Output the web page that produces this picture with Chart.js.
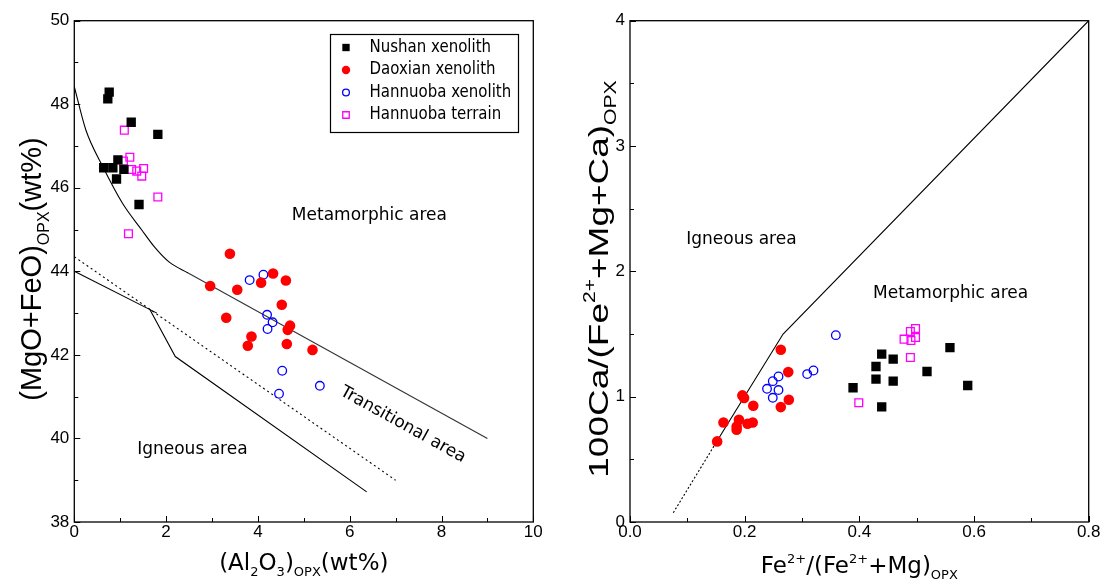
<!DOCTYPE html>
<html><head><meta charset="utf-8">
<script src="https://cdn.jsdelivr.net/npm/chart.js@4.4.1/dist/chart.umd.min.js"></script>
<style>
html,body{margin:0;padding:0;background:#fff;}
body{width:1104px;height:584px;overflow:hidden;position:relative;}
canvas{position:absolute;top:0;}
</style>
</head><body>
<canvas id="c1" width="552" height="584" style="left:0px"></canvas>
<canvas id="c2" width="552" height="584" style="left:552px"></canvas>
<script>
// ---------------- Left diagram: (Al2O3)opx vs (MgO+FeO)opx ----------------
const seriesNames = ['Nushan xenolith','Daoxian xenolith','Hannuoba xenolith','Hannuoba terrain'];

const nushanAl   = [0.76,0.73,1.24,1.82,0.95,0.64,0.84,1.08,0.92,1.41];
const nushanMF   = [48.29,48.13,47.57,47.28,46.67,46.48,46.48,46.44,46.21,45.60];
const daoxianAl  = [3.39,4.33,4.07,4.61,2.96,3.55,4.52,3.31,4.70,4.65,3.86,3.78,4.63,5.19];
const daoxianMF  = [44.42,43.95,43.73,43.78,43.65,43.56,43.20,42.89,42.70,42.60,42.44,42.22,42.26,42.12];
const hanXenAl   = [3.82,4.12,4.20,4.32,4.21,4.53,5.35,4.46];
const hanXenMF   = [43.79,43.92,42.96,42.78,42.62,41.62,41.26,41.07];
const hanTerAl   = [1.09,1.21,1.07,1.25,1.36,1.51,1.47,1.82,1.18];
const hanTerMF   = [47.38,46.73,46.64,46.44,46.40,46.46,46.28,45.78,44.90];

// boundary lines (left)
const curveAl    = [0,0.25,0.62,1.05,1.47,1.75,2.07,2.48];
const curveMF    = [48.42,47.39,46.51,45.63,44.99,44.58,44.22,43.96];
const upperAl    = [2.48,9.0];
const upperMF    = [43.96,40.0];
const dottedAl   = [0,7.0];
const dottedMF   = [44.35,39.0];
const lowerAl    = [0,1.80];
const lowerMF    = [44.0,43.0];
const lower2Al   = [1.64,2.20,6.37];
const lower2MF   = [43.10,41.96,38.72];

const xTicksL = [0,2,4,6,8,10];
const xTickLabelsL = ['0','2','4','6','8','10'];
const yTicksL = [38,40,42,44,46,48,50];
const yTickLabelsL = ['38','40','42','44','46','48','50'];

// ---------------- Right diagram: Fe/(Fe+Mg) vs 100Ca/(Fe+Mg+Ca) ----------------
const nushanFe   = [0.439,0.459,0.429,0.429,0.459,0.389,0.439,0.518,0.558,0.589];
const nushanCa   = [1.340,1.300,1.241,1.140,1.124,1.071,0.919,1.201,1.392,1.089];
const daoxianFe  = [0.152,0.196,0.199,0.215,0.163,0.190,0.186,0.186,0.205,0.214,0.263,0.276,0.277,0.263];
const daoxianCa  = [0.643,1.010,0.989,0.927,0.794,0.816,0.762,0.736,0.784,0.794,1.374,1.196,0.975,0.917];
const hanXenFe   = [0.359,0.259,0.249,0.239,0.259,0.249,0.309,0.320];
const hanXenCa   = [1.491,1.161,1.124,1.063,1.053,0.991,1.180,1.209];
const hanTerFe   = [0.498,0.489,0.498,0.478,0.490,0.489,0.399];
const hanTerCa   = [1.544,1.520,1.472,1.459,1.448,1.313,0.951];

const rSolidFe   = [0.151,0.267,0.8];
const rSolidCa   = [0.64,1.5,4.0];
const rDotFe     = [0.0755,0.151];
const rDotCa     = [0.074,0.64];

const xTicksR = [0,0.2,0.4,0.6,0.8];
const xTickLabelsR = ['0.0','0.2','0.4','0.6','0.8'];
const yTicksR = [0,1,2,3,4];
const yTickLabelsR = ['0','1','2','3','4'];

// ---------------- helpers ----------------
const FA = '"Liberation Sans", Arial, sans-serif';
const FD = '"DejaVu Sans", Verdana, sans-serif';
const zip = (xs, ys) => xs.map((x, i) => ({x, y: ys[i]}));

const styles = [
  {pointStyle:'rect',   radius:6.6, bg:'#000000', bc:'#000000', bw:0,   lr:5.2},
  {pointStyle:'circle', radius:5.3, bg:'#ff0000', bc:'#ff0000', bw:0,   lr:4.2},
  {pointStyle:'circle', radius:4.3, bg:'rgba(0,0,0,0)', bc:'#0000ff', bw:1.3, lr:3.4},
  {pointStyle:'rect',   radius:5.5, bg:'rgba(0,0,0,0)', bc:'#ff00ff', bw:1.3, lr:4.6}
];
function pointDS(i, data) {
  const s = styles[i];
  return {label: seriesNames[i], data, showLine:false, pointStyle:s.pointStyle,
    pointRadius:s.radius, pointBackgroundColor:s.bg, pointBorderColor:s.bc,
    pointBorderWidth:s.bw, order: 1, legendRadius:s.lr, isSeries:true};
}
function lineDS(data, dash, mono, color) {
  return {label:'', data, showLine:true, pointRadius:0, borderColor: color || '#000', borderWidth:1.1,
    borderDash: dash || [], cubicInterpolationMode: mono ? 'monotone' : 'default', order: 5, isSeries:false};
}

function textW(ctx, parts, base, small, fam) {
  let w = 0;
  for (const p of parts) { ctx.font = (p.s ? small : base) + 'px ' + fam; w += ctx.measureText(p.t).width; }
  return w;
}
function drawRich(ctx, parts, cx, cy, base, small, fam, rot, sub, sup, stretch) {
  ctx.save();
  ctx.translate(cx, cy);
  if (rot) ctx.rotate(rot);
  if (stretch) ctx.scale(stretch, 1);
  ctx.fillStyle = '#000'; ctx.textAlign = 'left'; ctx.textBaseline = 'alphabetic';
  let x = -textW(ctx, parts, base, small, fam) / 2;
  for (const p of parts) {
    ctx.font = (p.s ? small : base) + 'px ' + fam;
    const dy = p.s === 'sub' ? sub : (p.s === 'sup' ? -sup : 0);
    ctx.fillText(p.t, x, dy);
    x += ctx.measureText(p.t).width;
  }
  ctx.restore();
}

const decor = {
  id: 'decor',
  afterDraw(chart, args, o) {
    const ctx = chart.ctx, a = chart.chartArea, xs = chart.scales.x, ys = chart.scales.y;
    ctx.save();
    // frame
    ctx.strokeStyle = '#000'; ctx.lineWidth = 1.3;
    ctx.strokeRect(a.left, a.top, a.right - a.left, a.bottom - a.top);
    // inward ticks (major + minor)
    ctx.lineWidth = 1;
    ctx.beginPath();
    for (let v = xs.min; v <= xs.max + 1e-9; v += o.xStep / 2) {
      const px = Math.round(xs.getPixelForValue(v)) + 0.5;
      const major = Math.abs(Math.round(v / o.xStep) * o.xStep - v) < 1e-9;
      const len = major ? 6 : 4;
      ctx.moveTo(px, a.bottom); ctx.lineTo(px, a.bottom - len);
    }
    for (let v = ys.min; v <= ys.max + 1e-9; v += o.yStep / 2) {
      const py = Math.round(ys.getPixelForValue(v)) + 0.5;
      const major = Math.abs(Math.round(v / o.yStep) * o.yStep - v) < 1e-9;
      const len = major ? 6 : 4;
      ctx.moveTo(a.left, py); ctx.lineTo(a.left + len, py);
    }
    ctx.stroke();
    // axis titles
    drawRich(ctx, o.xTitle.parts, (a.left + a.right) / 2, o.xTitle.y, 23, 13, FD, 0, 6, 10);
    const yt = o.yTitle;
    drawRich(ctx, yt.parts, yt.x, yt.y, yt.size, yt.small, FA, -Math.PI / 2, 8, 13, yt.stretch);
    // annotations (data coordinates)
    ctx.fillStyle = '#000'; ctx.font = '17px ' + FD;
    for (const n of o.notes) {
      const px = xs.getPixelForValue(n.x), py = ys.getPixelForValue(n.y);
      ctx.save(); ctx.translate(px, py); if (n.rot) ctx.rotate(n.rot);
      ctx.textAlign = n.align || 'left'; ctx.textBaseline = 'middle';
      ctx.fillText(n.text, 0, 0); ctx.restore();
    }
    // legend
    if (o.legend) {
      const L = o.legend;
      ctx.lineWidth = 1.2; ctx.strokeStyle = '#000';
      ctx.strokeRect(L.x + 0.5, L.y + 0.5, L.w, L.h);
      ctx.font = '15px ' + FD; ctx.textAlign = 'left'; ctx.textBaseline = 'middle';
      let row = 0;
      chart.data.datasets.forEach(ds => {
        if (!ds.isSeries) return;
        const cy = L.y + L.first + row * L.gap, cx = L.x + L.mx;
        const r = ds.legendRadius;
        ctx.fillStyle = ds.pointBackgroundColor; ctx.strokeStyle = ds.pointBorderColor;
        ctx.lineWidth = ds.pointBorderWidth || 1;
        ctx.beginPath();
        if (ds.pointStyle === 'rect') { const s = r * Math.SQRT1_2; ctx.rect(cx - s, cy - s, 2 * s, 2 * s); }
        else ctx.arc(cx, cy, r, 0, Math.PI * 2);
        ctx.fill(); if (ds.pointBorderWidth) ctx.stroke();
        ctx.fillStyle = '#000';
        ctx.save(); ctx.translate(L.x + L.tx, cy); ctx.scale(1, 1.12);
        ctx.fillText(ds.label, 0, 0); ctx.restore();
        row++;
      });
    }
    ctx.restore();
  }
};

function scale(min, max, ticks, labels, fit, fitVal, pad) {
  return {
    type: 'linear', min, max,
    afterBuildTicks: s => { s.ticks = ticks.map(v => ({value: v})); },
    ticks: {font: {family: FA, size: 17}, color: '#000', padding: pad,
      callback: (v) => { const i = ticks.findIndex(t => Math.abs(t - v) < 1e-9); return i >= 0 ? labels[i] : ''; }},
    grid: {display: false, drawTicks: false}, border: {display: false},
    afterFit: s => { s[fit] = fitVal; }
  };
}

function makeChart(id, datasets, sx, sy, padding, decorOpts) {
  return new Chart(document.getElementById(id), {
    type: 'scatter',
    data: {datasets},
    options: {
      responsive: false, animation: false, events: [],
      layout: {padding},
      scales: {x: sx, y: sy},
      plugins: {legend: {display: false}, tooltip: {enabled: false}, decor: decorOpts}
    },
    plugins: [decor]
  });
}

// left chart
makeChart('c1', [
  pointDS(0, zip(nushanAl, nushanMF)),
  pointDS(1, zip(daoxianAl, daoxianMF)),
  pointDS(2, zip(hanXenAl, hanXenMF)),
  pointDS(3, zip(hanTerAl, hanTerMF)),
  lineDS(zip(curveAl, curveMF), null, true),
  lineDS(zip(upperAl, upperMF), null, false, '#333'),
  lineDS(zip(dottedAl, dottedMF), [2, 3]),
  lineDS(zip(lowerAl, lowerMF)),
  lineDS(zip(lower2Al, lower2MF))
],
  scale(0, 10, xTicksL, xTickLabelsL, 'height', 62, 0),
  scale(38, 50, yTicksL, yTickLabelsL, 'width', 74.3, 5),
  {left: 0, right: 18.7, top: 20.7, bottom: 0},
  {xStep: 2, yStep: 2,
   xTitle: {y: 570, parts: [{t:'(Al'},{t:'2',s:'sub'},{t:'O'},{t:'3',s:'sub'},{t:')'},{t:'OPX',s:'sub'},{t:'(wt%)'}]},
   yTitle: {x: 41, y: 269, size: 29, small: 16, stretch: 1.0, parts: [{t:'(MgO+FeO)'},{t:'OPX',s:'sub'},{t:'(wt%)'}]},
   notes: [
     {text:'Metamorphic area', x:4.74, y:45.33},
     {text:'Igneous area', x:1.37, y:39.73},
     {text:'Transitional area', x:7.16, y:40.33, rot:0.505, align:'center'}
   ],
   legend: {x: 330, y: 34, w: 188, h: 98, mx: 16, tx: 39.5, first: 13.5, gap: 22.5}
  });

// right chart
makeChart('c2', [
  pointDS(0, zip(nushanFe, nushanCa)),
  pointDS(1, zip(daoxianFe, daoxianCa)),
  pointDS(2, zip(hanXenFe, hanXenCa)),
  pointDS(3, zip(hanTerFe, hanTerCa)),
  lineDS(zip(rSolidFe, rSolidCa)),
  lineDS(zip(rDotFe, rDotCa), [2, 2])
],
  scale(0, 0.8, xTicksR, xTickLabelsR, 'height', 62, 0),
  scale(0, 4, yTicksR, yTickLabelsR, 'width', 78, 5),
  {left: 0, right: 15.3, top: 20.7, bottom: 0},
  {xStep: 0.2, yStep: 1,
   xTitle: {y: 573, parts: [{t:'Fe'},{t:'2+',s:'sup'},{t:'/(Fe'},{t:'2+',s:'sup'},{t:'+Mg)'},{t:'OPX',s:'sub'}]},
   yTitle: {x: 56, y: 279, size: 28, small: 16, stretch: 1.32, parts: [{t:'100Ca/(Fe'},{t:'2+',s:'sup'},{t:'+Mg+Ca)'},{t:'OPX',s:'sub'}]},
   notes: [
     {text:'Igneous area', x:0.098, y:2.25},
     {text:'Metamorphic area', x:0.424, y:1.82}
   ],
   legend: null
  });
</script>
</body></html>
